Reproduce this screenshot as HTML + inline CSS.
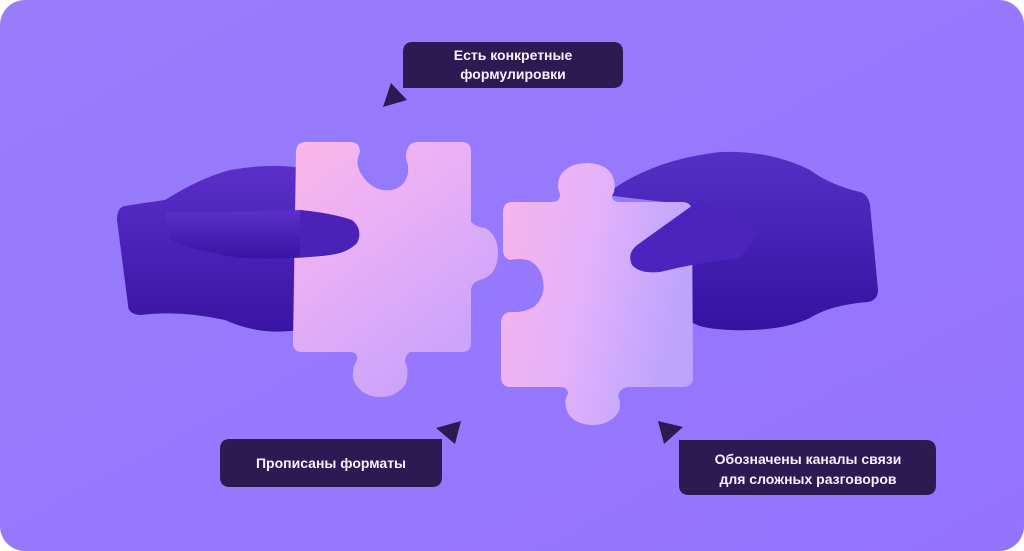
<!DOCTYPE html>
<html><head><meta charset="utf-8"><style>
html,body{margin:0;padding:0;background:#fff;width:1024px;height:551px;overflow:hidden}
svg{display:block}
text{font-family:"Liberation Sans",sans-serif;fill:#f6f2ff;font-size:14px;font-weight:bold}
</style></head><body>
<svg width="1024" height="551" viewBox="0 0 1024 551">
<defs>
<linearGradient id="bg" x1="0" y1="0" x2="1" y2="1"><stop offset="0" stop-color="#977dfc"/><stop offset="1" stop-color="#9474fd"/></linearGradient>
<linearGradient id="p1" x1="0" y1="0" x2="0.6" y2="1"><stop offset="0" stop-color="#fbb6e6"/><stop offset="0.4" stop-color="#eab0f6"/><stop offset="1" stop-color="#c9a2fb"/></linearGradient>
<linearGradient id="p2" x1="0" y1="0" x2="1" y2="0.3"><stop offset="0" stop-color="#f8b4e8"/><stop offset="0.5" stop-color="#e4b2fb"/><stop offset="1" stop-color="#bea4fd"/></linearGradient>
<linearGradient id="h1" x1="0" y1="0" x2="0" y2="1"><stop offset="0" stop-color="#5a30c8"/><stop offset="1" stop-color="#3a14a4"/></linearGradient>
<linearGradient id="h2" x1="0" y1="0" x2="0" y2="1"><stop offset="0" stop-color="#5530c6"/><stop offset="1" stop-color="#3512a0"/></linearGradient>
</defs>
<rect x="0" y="0" width="1024" height="551" rx="25" fill="url(#bg)"/>

<!-- left hand -->
<path d="M125 206 Q150 202 165 200 Q200 178 230 170 Q270 163 300 168 L300 330 Q260 336 225 320 Q180 310 140 315 Q128 314 128 305 L117 220 Q117 207 125 206 Z" fill="url(#h1)"/>
<!-- left piece -->
<path d="M306 142 L350 142 Q360 142 360 152 Q355 162 360 172 Q372 193 392 190 Q410 185 408 165 Q404 155 408 148 Q410 142 418 142 L462 142 Q471 142 471 152 L471 222 Q476 227 485 228 Q498 235 498 253 Q498 275 480 280 Q472 282 471 290 L471 343 Q471 352 462 352 L410 352 Q405 355 405 362 Q410 372 405 385 Q395 398 378 397 Q358 395 353 378 Q352 368 357 360 Q358 352 350 352 L302 352 Q293 352 293 343 L296 152 Q296 142 306 142 Z" fill="url(#p1)"/>
<!-- left finger over piece -->
<path d="M165 212 Q240 212 300 210 Q335 214 352 220 Q362 228 358 240 Q352 252 330 255 Q290 260 240 258 Q190 250 170 240 Z" fill="url(#h1)"/>
<path d="M300 210 Q340 214 354 222 Q363 232 357 243 Q348 253 322 256 L300 257 Z" fill="#4a22b8"/>

<!-- right hand -->
<path d="M605 195 Q650 160 720 152 Q770 150 810 170 Q830 185 860 192 Q868 194 870 205 L878 290 Q878 300 868 302 Q830 305 810 318 Q780 332 730 330 Q690 328 690 318 L690 205 Z" fill="url(#h2)"/>
<!-- right piece -->
<path d="M512 202 L552 202 Q560 202 560 194 Q556 186 560 176 Q568 163 588 163 Q610 164 614 180 Q616 190 612 196 Q612 202 620 202 L682 202 Q692 202 692 212 L693 377 Q693 387 683 387 L628 387 Q620 388 618 396 Q622 405 618 413 Q608 426 590 425 Q570 423 566 408 Q564 400 568 394 Q568 387 560 387 L511 387 Q501 387 501 377 L501 322 Q502 313 510 312 Q525 313 535 306 Q546 295 543 280 Q540 265 528 260 Q518 258 510 260 Q503 258 503 250 L503 212 Q503 202 512 202 Z" fill="url(#p2)"/>
<!-- right finger -->
<path d="M700 200 Q665 225 640 243 Q626 252 632 265 Q640 274 660 272 Q700 262 740 258 L760 230 Z" fill="#4a24bc"/>

<!-- top label -->
<path d="M403 88 L403 52 Q403 42 413 42 L613 42 Q623 42 623 52 L623 78 Q623 88 613 88 Z" fill="#2b1b52"/>
<polygon points="383,107 391,83 407,100" fill="#2b1b52"/>
<text x="513" y="60" text-anchor="middle">Есть конкретные</text>
<text x="513" y="79" text-anchor="middle">формулировки</text>

<!-- left label -->
<path d="M230 439 L442 439 L442 477 Q442 487 432 487 L230 487 Q220 487 220 477 L220 449 Q220 439 230 439 Z" fill="#2b1b52"/>
<polygon points="461,421 436,428 455,444" fill="#2b1b52"/>
<text x="331" y="468" text-anchor="middle">Прописаны форматы</text>

<!-- right label -->
<path d="M679 440 L926 440 Q936 440 936 450 L936 485 Q936 495 926 495 L689 495 Q679 495 679 485 Z" fill="#2b1b52"/>
<polygon points="658,421 683,427 664,444" fill="#2b1b52"/>
<text x="808" y="464" text-anchor="middle">Обозначены каналы связи</text>
<text x="808" y="484" text-anchor="middle">для сложных разговоров</text>
</svg>
</body></html>
